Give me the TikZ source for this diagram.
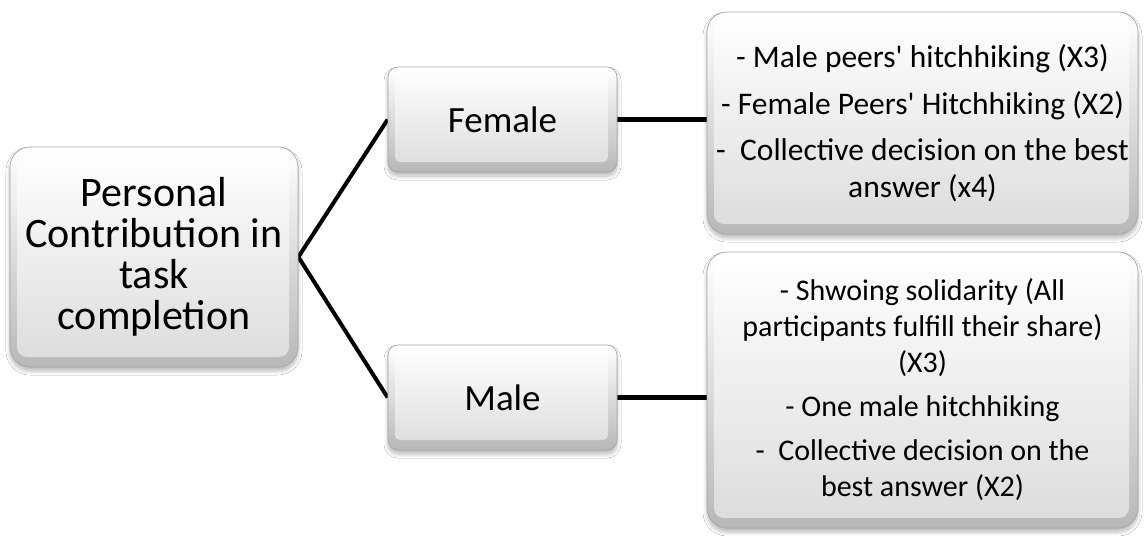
\documentclass[tikz,border=0pt]{standalone}
\usepackage{fontspec}
\setmainfont{Carlito}
\usetikzlibrary{shadows.blur,backgrounds}

\newcommand{\sq}{\textquotesingle}

\tikzset{
  bevelbox/.style={
    rounded corners=#1, draw=black!35, line width=0.7pt,
    top color=white, bottom color=black!28,
    blur shadow={shadow xshift=0pt, shadow yshift=-4pt,
      shadow blur steps=8, shadow opacity=28, shadow blur radius=4pt},
    path picture={
      \shade[top color=white, bottom color=black!14, rounded corners=0.5*#1]
        ([xshift=7pt,yshift=-6pt]path picture bounding box.north west)
        rectangle ([xshift=-9pt,yshift=10pt]path picture bounding box.south east);
    },
    align=center, inner sep=0pt, text=black
  },
  link/.style={line width=4pt, black},
  thicklink/.style={line width=5.5pt, black}
}

\begin{document}
\begin{tikzpicture}[x=1pt,y=-1pt]
  \useasboundingbox (0,0) rectangle (1145,536);

  % root
  \node[bevelbox=20pt, minimum width=288pt, minimum height=220pt,
        font=\fontsize{42}{41}\selectfont] (root) at (154,257)
    {Personal\\Contribution in\\task\\completion};

  % second level
  \node[bevelbox=10pt, minimum width=229pt, minimum height=105pt,
        font=\fontsize{37}{42}\selectfont] (female) at (502.5,119.5) {Female};
  \node[bevelbox=10pt, minimum width=229pt, minimum height=105pt,
        font=\fontsize{37}{42}\selectfont] (male) at (502.5,397.5) {Male};

  % details
  \node[bevelbox=20pt, minimum width=431pt, minimum height=222pt,
        font=\fontsize{31.5}{37.5}\selectfont] (fdet) at (922.5,123)
    {- Male peers\sq{} hitchhiking (X3)\\[10pt]
     - Female Peers\sq{} Hitchhiking (X2)\\[8pt]
     -\ \ Collective decision on the best\\answer (x4)};
  \node[bevelbox=20pt, minimum width=431pt, minimum height=276pt,
        font=\fontsize{30}{36}\selectfont] (mdet) at (922.5,390)
    {- Shwoing solidarity (All\\participants fulfill their share)\\(X3)\\[8pt]
     - One male hitchhiking\\[8pt]
     -\ \ Collective decision on the\\best answer (X2)};

  % connectors
  \begin{pgfonlayer}{background}
    \fill[white] (0,0) rectangle (1145,536);
    \draw[link] (female.west) -- (root.east) -- (male.west);
    \draw[thicklink] (female.east) -- (female.east -| fdet.west);
    \draw[thicklink] (male.east) -- (male.east -| mdet.west);
  \end{pgfonlayer}
\end{tikzpicture}
\end{document}
